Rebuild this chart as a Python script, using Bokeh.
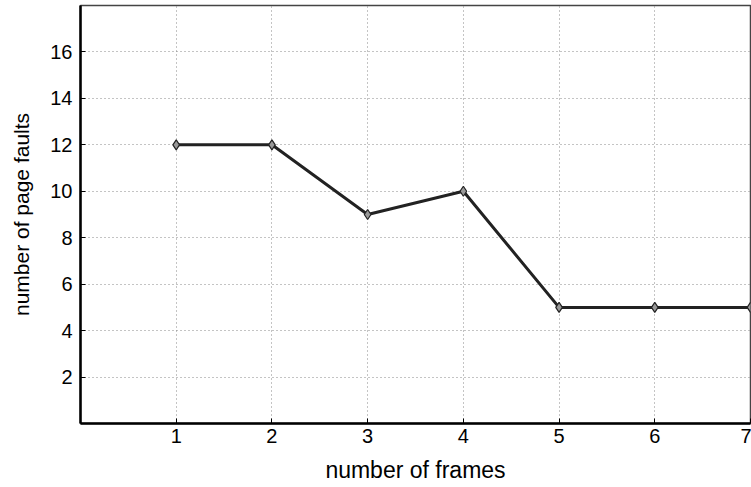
from bokeh.plotting import figure
from bokeh.models import FixedTicker, Range1d
from bokeh.embed import file_html
from bokeh.resources import INLINE

frames = [1, 2, 3, 4, 5, 6, 7]
faults = [12, 12, 9, 10, 5, 5, 5]
x_ticks = [1, 2, 3, 4, 5, 6, 7]
y_ticks = [2, 4, 6, 8, 10, 12, 14, 16]

p = figure(width=751, height=487, output_backend="svg", toolbar_location=None,
           x_range=Range1d(0, 7), y_range=Range1d(0, 18),
           min_border_left=80, min_border_right=1, min_border_top=5, min_border_bottom=64)
p.background_fill_color = "white"
p.border_fill_color = "white"
p.outline_line_color = "#444444"
p.outline_line_width = 1.5

p.xaxis.ticker = FixedTicker(ticks=x_ticks)
p.yaxis.ticker = FixedTicker(ticks=y_ticks)
for ax in (p.xaxis, p.yaxis):
    ax.axis_line_width = 2.5
    ax.axis_line_color = "black"
    ax.major_tick_in = 5
    ax.major_tick_out = 0
    ax.major_tick_line_color = "black"
    ax.minor_tick_line_color = None
    ax.major_label_text_font = "Liberation Sans"
    ax.major_label_text_font_size = "20px"
    ax.major_label_text_color = "black"
    ax.axis_label_text_font = "Liberation Sans"
    ax.axis_label_text_font_style = "normal"
    ax.axis_label_text_color = "black"
p.xaxis.axis_label = "number of frames"
p.yaxis.axis_label = "number of page faults"
p.xaxis.axis_label_text_font_size = "23px"
p.yaxis.axis_label_text_font_size = "21px"
p.xaxis.major_label_standoff = 5
p.yaxis.major_label_standoff = 8
p.xaxis.axis_label_standoff = 11
p.yaxis.axis_label_standoff = 14

for g in (p.xgrid, p.ygrid):
    g.grid_line_color = "#888888"
    g.grid_line_dash = "1 3"
    g.grid_line_width = 1

p.line(frames, faults, line_color="#222222", line_width=3)
p.scatter(frames, faults, marker="diamond", size=10, fill_color="#999999",
          line_color="#222222", line_width=1.2)

open("out.html", "w").write(file_html(p, INLINE))
